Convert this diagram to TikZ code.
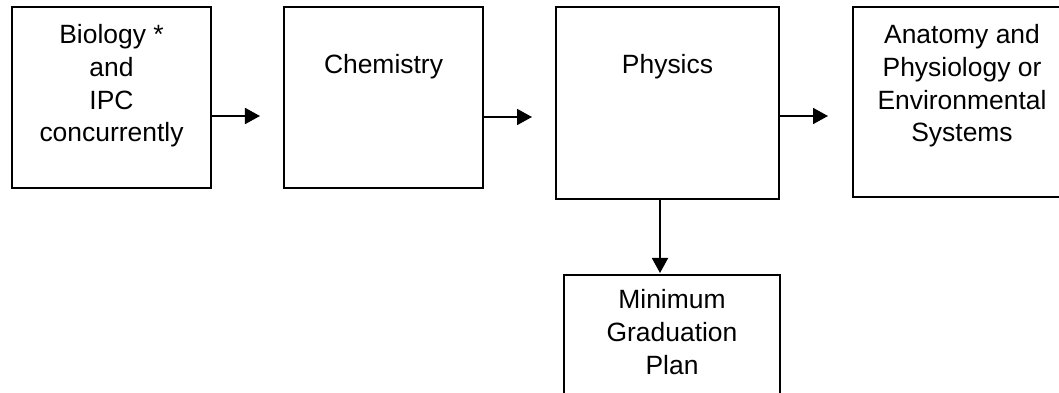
\documentclass[tikz,border=0pt]{standalone}
\usepackage{fontspec}
\setmainfont{Liberation Sans}
\usetikzlibrary{arrows.meta}
\usetikzlibrary{positioning}
\tikzset{
	course/.style={draw, line width=1.3pt, inner sep=0pt},
	coursetext/.style={align=center, inner sep=0pt, font=\fontsize{18.8pt}{23.3pt}\selectfont},
	flow/.style={line width=1.3pt, -{Triangle[length=0.375cm,width=0.4cm]}}
}

\begin{document}
\begin{tikzpicture}[x=0.025cm, y=-0.025cm]
			\useasboundingbox (0,0) rectangle (1059,393);
			\clip (0,0) rectangle (1059,393);
			
			\node[course, minimum width=4.975cm, minimum height=4.525cm] (bio) at (111.5,97.5) {};
			\node[coursetext, below=0.45cm of bio.north] (biotext) {Biology *\\and\\IPC\\concurrently};
			
			\node[course, minimum width=4.975cm, minimum height=4.525cm] (chem) at (383.5,97.5) {};
			\node[coursetext, below=1.2cm of chem.north] (chemtext) {Chemistry};
			
			\node[course, minimum width=5.575cm, minimum height=4.8cm] (phys) at (667.5,103) {};
			\node[coursetext, below=1.2cm of phys.north] (phystext) {Physics};
			
			\node[course, minimum width=5.45cm, minimum height=4.75cm] (anat) at (962,102) {};
			\node[coursetext, below=0.45cm of anat.north] (anattext) {Anatomy and\\Physiology or\\Environmental\\Systems};
			
			\node[course, minimum width=5.4cm, minimum height=3.625cm] (plan) at (672,347.5) {};
			\node[coursetext, below=0.375cm of plan.north] (plantext) {Minimum\\Graduation\\Plan};
			
			\coordinate (tip1) at (260,116);
			\coordinate (tip2) at (532,117);
			\coordinate (tip3) at (828,116);
			\coordinate (tip4) at (660,273);
			
			\draw[flow] (bio.east |- tip1) -- (tip1);
			\draw[flow] (chem.east |- tip2) -- (tip2);
			\draw[flow] (phys.east |- tip3) -- (tip3);
			\draw[flow] (tip4 |- phys.south) -- (tip4);
			
		\end{tikzpicture}
\end{document}
